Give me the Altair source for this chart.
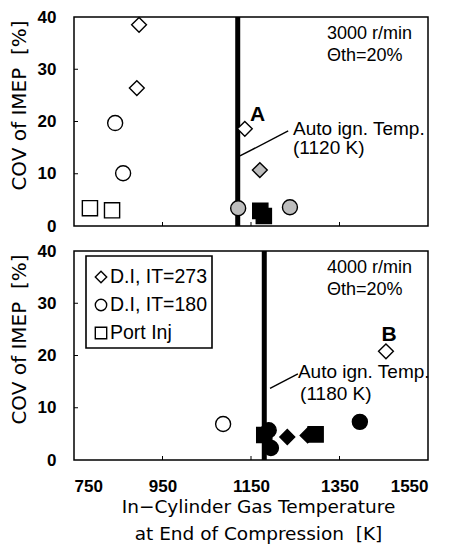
import altair as alt
import pandas as pd

# ---------------- data ----------------
series_names = ["D.I, IT=273", "D.I, IT=180", "Port Inj"]
series_shapes = ["diamond", "circle", "square"]

# Top panel: 3000 r/min
top_di273_T = [897, 892, 1136, 1170]
top_di273_cov = [38.5, 26.4, 18.6, 10.7]
top_di273_fill = ["open", "open", "open", "gray"]

top_di180_T = [843, 861, 1121, 1238]
top_di180_cov = [19.7, 10.1, 3.4, 3.6]
top_di180_fill = ["open", "open", "gray", "gray"]

top_port_T = [786, 836, 1171, 1179]
top_port_cov = [3.4, 3.0, 2.9, 1.9]
top_port_fill = ["open", "open", "black", "black"]

# Bottom panel: 4000 r/min
bot_di273_T = [1455, 1232, 1278]
bot_di273_cov = [20.8, 4.4, 4.7]
bot_di273_fill = ["open", "black", "black"]

bot_di180_T = [1087, 1190, 1195, 1396]
bot_di180_cov = [6.9, 5.7, 2.3, 7.3]
bot_di180_fill = ["open", "black", "black", "black"]

bot_port_T = [1180, 1296]
bot_port_cov = [4.8, 4.9]
bot_port_fill = ["black", "black"]

auto_ign = [1120, 1180]
speed_text = ["3000 r/min", "4000 r/min"]
theta_text = "\u0398th=20%"

# leader lines: (T start, cov start, T end, cov end)
top_leader = [1125, 13.4, 1234, 18.2]
bot_leader = [1193, 13.7, 1256, 16.5]
top_labels_T = [1245, 1245]
top_labels_cov = [18.6, 14.9]
bot_labels_T = [1256, 1261]
bot_labels_cov = [16.9, 12.7]
letter_A = [1165, 21.2]
letter_B = [1462, 24.0]

x_ticks = [750, 950, 1150, 1350, 1550]
y_ticks = [0, 10, 20, 30, 40]

W, H = 354, 209


def make_df(groups):
    rows = []
    for name, Ts, covs, fills in groups:
        for t, c, f in zip(Ts, covs, fills):
            rows.append({"T": t, "cov": c, "series": name, "style": f})
    return pd.DataFrame(rows)


top_df = make_df([
    (series_names[0], top_di273_T, top_di273_cov, top_di273_fill),
    (series_names[1], top_di180_T, top_di180_cov, top_di180_fill),
    (series_names[2], top_port_T, top_port_cov, top_port_fill),
])
bot_df = make_df([
    (series_names[0], bot_di273_T, bot_di273_cov, bot_di273_fill),
    (series_names[1], bot_di180_T, bot_di180_cov, bot_di180_fill),
    (series_names[2], bot_port_T, bot_port_cov, bot_port_fill),
])

xscale = alt.Scale(domain=[750, 1550], nice=False, zero=False)
yscale = alt.Scale(domain=[0, 40], nice=False)

yaxis = alt.Axis(values=y_ticks, format="d", title="COV of IMEP\u00a0\u00a0[%]", domain=False,
                 ticks=False, grid=False, labelFont="Liberation Sans", labelFontWeight="bold",
                 labelFontSize=17, labelPadding=18, labelColor="black",
                 titleFont="DejaVu Sans", titleFontSize=20, titleFontWeight="normal",
                 titlePadding=8, titleColor="black", titleY=88)
xaxis_full = alt.Axis(values=x_ticks, format="d",
                      title=["In\u2212Cylinder Gas Temperature",
                             "at End of Compression\u00a0\u00a0[K]"],
                      domain=False, ticks=False, grid=False,
                      labelFont="Liberation Sans", labelFontWeight="bold",
                      labelFontSize=17, labelPadding=18, labelColor="black",
                      titleFont="DejaVu Sans", titleFontSize=18.5,
                      titleFontWeight="normal", titleLineHeight=27,
                      titlePadding=3, titleColor="black", titleX=184)


def panel(df, ign, leader, lab_T, lab_cov, letter, letter_text, speed, show_x, with_legend):
    xax = xaxis_full if show_x else None

    def X(f):
        return alt.X(f, scale=xscale, axis=xax)

    def Y(f):
        return alt.Y(f, scale=yscale, axis=yaxis)

    pts = alt.Chart(df).mark_point(filled=True, stroke="black", strokeWidth=1.4, opacity=1).encode(
        x=X("T:Q"), y=Y("cov:Q"),
        shape=alt.Shape("series:N", scale=alt.Scale(domain=series_names, range=series_shapes),
                        legend=None),
        fill=alt.Fill("style:N", scale=alt.Scale(domain=["open", "gray", "black"],
                                                 range=["white", "#bdbdbd", "black"]),
                      legend=None),
        size=alt.Size("series:N", scale=alt.Scale(domain=series_names, range=[220, 230, 230]),
                      legend=None),
    )
    vline = alt.Chart(pd.DataFrame({"T": [ign]})).mark_rule(color="black", strokeWidth=5).encode(
        x=X("T:Q"))
    lead = alt.Chart(pd.DataFrame({"T": [leader[0]], "c": [leader[1]],
                                   "T2": [leader[2]], "c2": [leader[3]]})).mark_rule(
        color="black", strokeWidth=1.4).encode(x=X("T:Q"), y=Y("c:Q"), x2="T2:Q", y2="c2:Q")
    labs = alt.Chart(pd.DataFrame({"T": lab_T, "c": lab_cov,
                                   "t": ["Auto ign. Temp.", "(%d K)" % ign]})).mark_text(
        align="left", baseline="middle", font="Liberation Sans", fontSize=19, color="black").encode(
        x=X("T:Q"), y=Y("c:Q"), text="t:N")
    let = alt.Chart(pd.DataFrame({"T": [letter[0]], "c": [letter[1]], "t": [letter_text]})).mark_text(
        align="center", baseline="middle", font="Liberation Sans", fontSize=21,
        fontWeight="bold", color="black").encode(x=X("T:Q"), y=Y("c:Q"), text="t:N")
    yt = alt.Chart(pd.DataFrame({"v": y_ticks[1:-1]})).mark_rule(color="black", strokeWidth=1).encode(
        y=Y("v:Q"), x=alt.value(0), x2=alt.value(4))
    xt = alt.Chart(pd.DataFrame({"v": x_ticks[1:-1]})).mark_rule(color="black", strokeWidth=1).encode(
        x=X("v:Q"), y=alt.value(H), y2=alt.value(H - 4))
    layers = [vline, lead, yt, xt, pts, labs, let]
    for txt, yy in [(speed, 17), (theta_text, 39)]:
        layers.append(alt.Chart(pd.DataFrame({"t": [txt]})).mark_text(
            align="left", baseline="middle", font="Liberation Sans", fontSize=18,
            color="black").encode(x=alt.value(253), y=alt.value(yy), text="t:N"))
    if with_legend:
        layers.append(alt.Chart(pd.DataFrame({"a": [0]})).mark_rect(
            fill="white", stroke="black", strokeWidth=1.6).encode(
            x=alt.value(12), x2=alt.value(138), y=alt.value(5), y2=alt.value(97)))
        for i, (nm, shp) in enumerate(zip(series_names, series_shapes)):
            yy = 26 + 28 * i
            layers.append(alt.Chart(pd.DataFrame({"t": [nm]})).mark_point(
                shape=shp, size=130, filled=True, fill="white", stroke="black",
                strokeWidth=1.4, opacity=1).encode(x=alt.value(27), y=alt.value(yy)))
            layers.append(alt.Chart(pd.DataFrame({"t": [nm]})).mark_text(
                align="left", baseline="middle", font="Liberation Sans", fontSize=19.5,
                color="black").encode(x=alt.value(36), y=alt.value(yy), text="t:N"))
    return alt.layer(*layers).properties(width=W, height=H)


top = panel(top_df, auto_ign[0], top_leader, top_labels_T, top_labels_cov, letter_A, "A",
            speed_text[0], False, False)
bot = panel(bot_df, auto_ign[1], bot_leader, bot_labels_T, bot_labels_cov, letter_B, "B",
            speed_text[1], True, True)

chart = alt.vconcat(top, bot, spacing=6).configure_view(
    stroke="black", strokeWidth=1.5).properties(
    padding={"left": 8, "top": 7, "right": 4, "bottom": 0}, background="white")

chart.save("out.html", embed_options={"renderer": "svg", "actions": False})
